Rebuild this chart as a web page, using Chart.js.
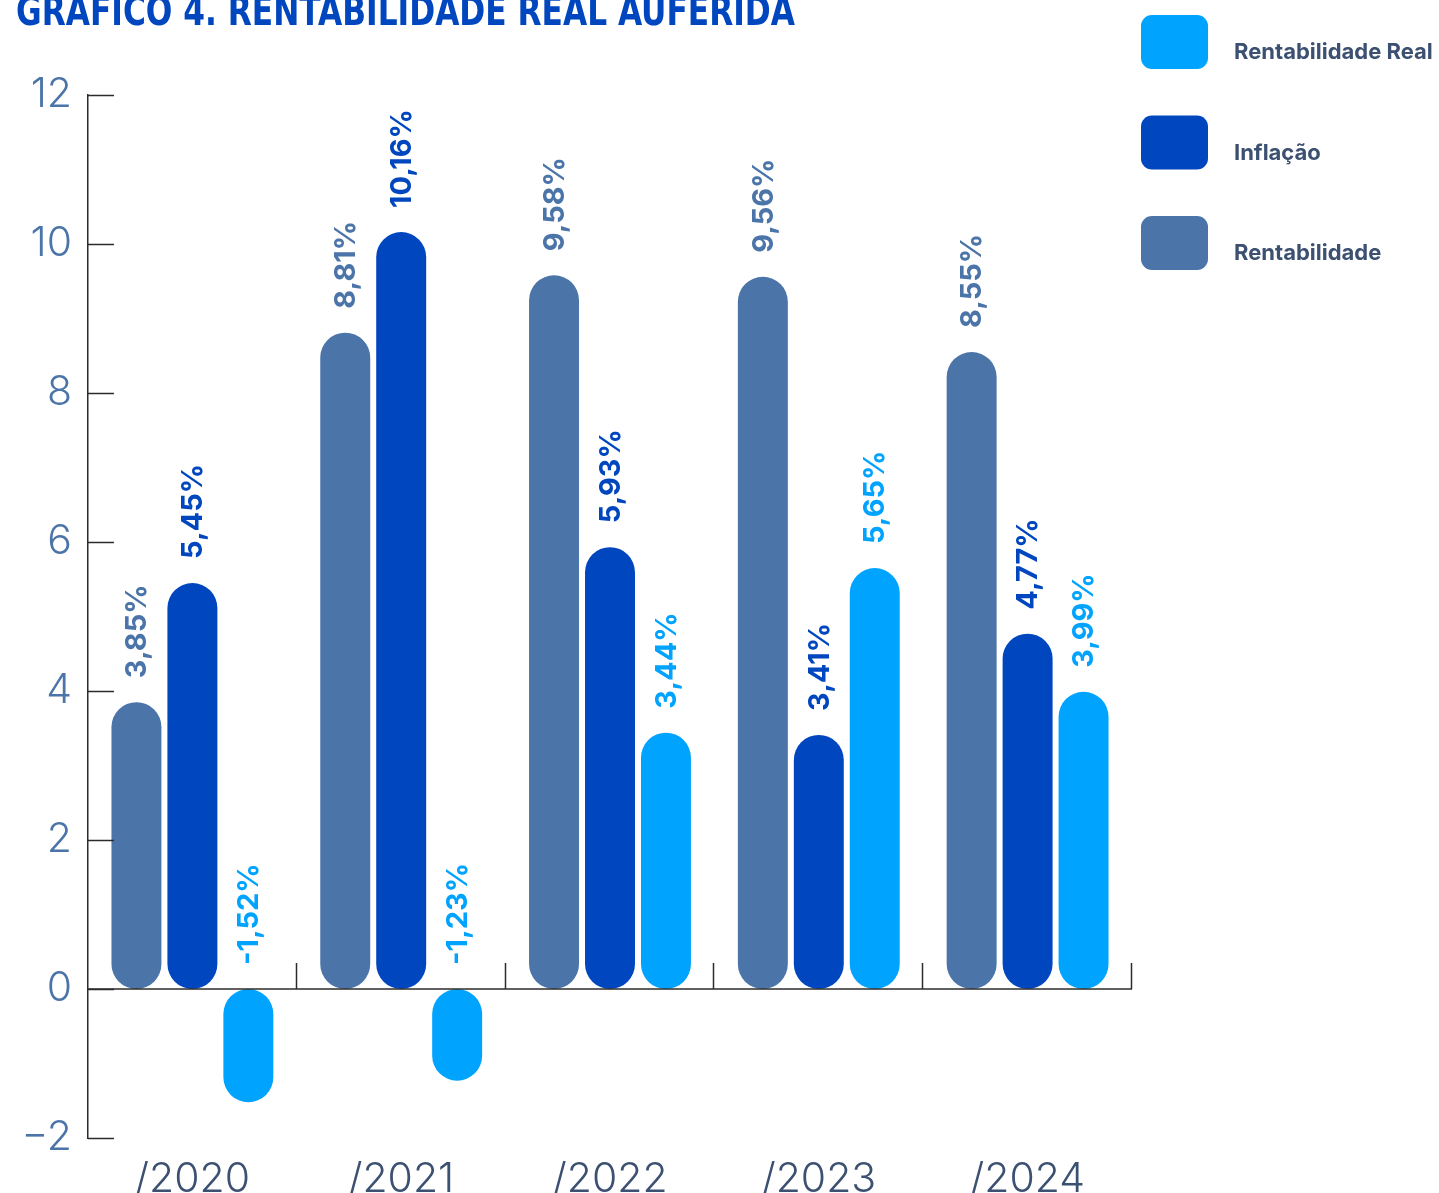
<!DOCTYPE html>
<html>
<head>
<meta charset="utf-8">
<script src="https://cdn.jsdelivr.net/npm/chart.js@4/dist/chart.umd.min.js"></script>
<style>
  body { margin: 0; background: #fff; }
  #wrap { position: relative; width: 1439px; height: 1193px; }
</style>
</head>
<body>
<div id="wrap"><canvas id="grafico"></canvas></div>
<script>
// data
const anos = ["/2020", "/2021", "/2022", "/2023", "/2024"];
const rentabilidade = [3.85, 8.81, 9.58, 9.56, 8.55];
const inflacao = [5.45, 10.16, 5.93, 3.41, 4.77];
const rentabilidadeReal = [-1.52, -1.23, 3.44, 5.65, 3.99];
const yTicks = [-2, 0, 2, 4, 6, 8, 10, 12];

const cores = {
  rent: "#4b74a9",
  infl: "#0047bf",
  real: "#00a3fe",
  eixo: "#2b2b2b",
  texto: "#3c5071"
};

const titulo = "GRAFICO 4. RENTABILIDADE REAL AUFERIDA";

// rotated value labels, hand-drawn axes, title and legend
const extras = {
  id: "extras",
  afterDatasetsDraw(chart) {
    const ctx = chart.ctx;
    const y = chart.scales.y;
    const x = chart.scales.x;
    const area = chart.chartArea;
    const zeroY = y.getPixelForValue(0);

    ctx.save();
    ctx.strokeStyle = cores.eixo;
    ctx.lineWidth = 1.5;
    // zero line
    ctx.beginPath();
    ctx.moveTo(area.left, zeroY);
    ctx.lineTo(area.right, zeroY);
    ctx.stroke();
    // y ticks pointing inward
    yTicks.forEach(v => {
      const py = Math.round(y.getPixelForValue(v)) + 0.5;
      ctx.beginPath();
      ctx.moveTo(area.left, py);
      ctx.lineTo(area.left + 26, py);
      ctx.stroke();
    });
    // category boundaries, upward from zero
    const step = area.width / anos.length;
    for (let i = 0; i < anos.length; i++) {
      const px = Math.round(x.getPixelForValue(i) + step / 2) - 0.5;
      ctx.beginPath();
      ctx.moveTo(px, zeroY);
      ctx.lineTo(px, zeroY - 26);
      ctx.stroke();
    }
    ctx.restore();

    // value labels
    chart.data.datasets.forEach((ds, di) => {
      const meta = chart.getDatasetMeta(di);
      meta.data.forEach((bar, i) => {
        const v = ds.data[i];
        const base = v >= 0 ? bar.y : zeroY;
        const txt = v.toFixed(2).replace(".", ",") + "%";
        ctx.save();
        ctx.translate(bar.x, base - 24);
        ctx.rotate(-Math.PI / 2);
        ctx.font = "700 29px Inter";
        ctx.fillStyle = ds.backgroundColor;
        ctx.textAlign = "left";
        ctx.textBaseline = "middle";
        ctx.fillText(txt, 0, 1);
        ctx.restore();
      });
    });
  },
  afterDraw(chart) {
    const ctx = chart.ctx;
    // title, cut at the top edge like the original
    ctx.save();
    ctx.font = "700 40px 'Liberation Sans Narrow', 'DejaVu Sans Condensed', sans-serif";
    const w = ctx.measureText(titulo).width;
    ctx.translate(16, 25);
    ctx.scale(779 / w, 1);
    ctx.fillStyle = cores.infl;
    ctx.textBaseline = "alphabetic";
    ctx.fillText(titulo, 0, 0);
    ctx.restore();

    // legend, last dataset on top
    const itens = chart.data.datasets.slice().reverse();
    itens.forEach((ds, i) => {
      const top = 15 + i * 100.5;
      ctx.save();
      ctx.fillStyle = ds.backgroundColor;
      ctx.beginPath();
      ctx.roundRect(1141, top, 67, 54, 11);
      ctx.fill();
      ctx.fillStyle = cores.texto;
      ctx.font = "700 22px Inter";
      ctx.textBaseline = "alphabetic";
      ctx.fillText(ds.label, 1234, top + 44);
      ctx.restore();
    });
  }
};

const ctx = document.getElementById("grafico").getContext("2d");
const chart = new Chart(ctx, {
  type: "bar",
  data: {
    labels: anos,
    datasets: [
      { label: "Rentabilidade", data: rentabilidade, backgroundColor: cores.rent },
      { label: "Inflação", data: inflacao, backgroundColor: cores.infl },
      { label: "Rentabilidade Real", data: rentabilidadeReal, backgroundColor: cores.real }
    ]
  },
  options: {
    responsive: true,
    maintainAspectRatio: false,
    animation: false,
    devicePixelRatio: 1,
    datasets: {
      bar: {
        categoryPercentage: 0.804,
        barPercentage: 0.893,
        borderRadius: 25,
        borderSkipped: false
      }
    },
    layout: { padding: { top: 95, right: 307, left: 0, bottom: 0 } },
    plugins: {
      legend: { display: false },
      tooltip: { enabled: false }
    },
    scales: {
      x: {
        grid: { display: false },
        border: { display: false },
        ticks: {
          color: cores.texto,
          font: { family: "Inter", size: 41, weight: 300 },
          padding: 9,
          maxRotation: 0
        },
        afterFit(scale) { scale.height = 55; }
      },
      y: {
        min: -2,
        max: 12,
        grid: { display: false, drawTicks: false },
        border: { display: true, color: cores.eixo, width: 1.5 },
        ticks: {
          stepSize: 2,
          color: cores.rent,
          font: { family: "Inter", size: 41, weight: 300 },
          padding: 16,
          callback: v => (v < 0 ? "\u2212" + Math.abs(v) : String(v))
        },
        afterFit(scale) { scale.width = 88; }
      }
    }
  },
  plugins: [extras]
});
</script>
</body>
</html>
